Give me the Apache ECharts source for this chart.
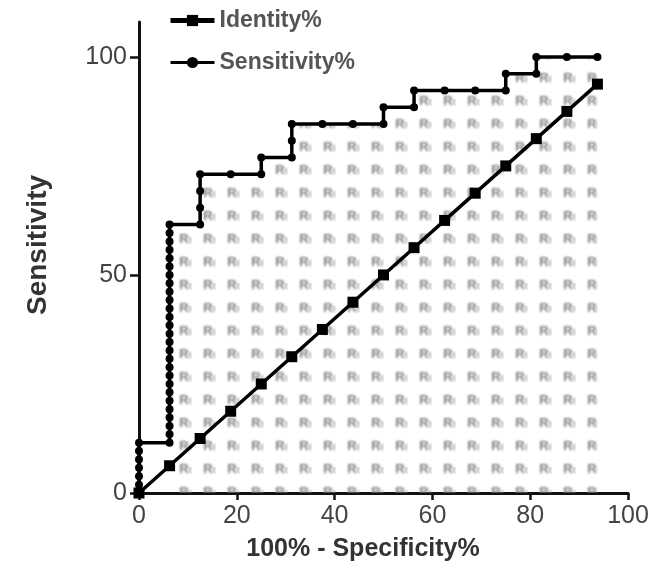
<!DOCTYPE html>
<html>
<head>
<meta charset="utf-8">
<script src="https://cdn.jsdelivr.net/npm/echarts@6/dist/echarts.min.js"></script>
<style>
html,body{margin:0;padding:0;background:#fff;}
#chart{width:664px;height:584px;}
</style>
</head>
<body>
<div id="chart"></div>
<script>
// ---- data ----
const rocX = [0,0,0,0,0,0,0,
  6.25,6.25,6.25,6.25,6.25,6.25,6.25,6.25,6.25,6.25,6.25,6.25,6.25,6.25,6.25,6.25,6.25,6.25,6.25,6.25,6.25,6.25,6.25,6.25,6.25,6.25,6.25,
  12.5,12.5,12.5,12.5,
  18.75,
  25,25,
  31.25,31.25,31.25,
  37.5,
  43.75,
  50,50,
  56.25,56.25,
  62.5,
  68.75,
  75,75,
  81.25,81.25,
  87.5,
  93.75];
const rocY = [0,1.92,3.85,5.77,7.69,9.62,11.54,
  11.54,13.46,15.38,17.31,19.23,21.15,23.08,25.00,26.92,28.85,30.77,32.69,34.62,36.54,38.46,40.38,42.31,44.23,46.15,48.08,50.00,51.92,53.85,55.77,57.69,59.62,61.54,
  61.54,65.38,69.23,73.08,
  73.08,
  73.08,76.92,
  76.92,80.77,84.62,
  84.62,
  84.62,
  84.62,88.46,
  88.46,92.31,
  92.31,
  92.31,
  92.31,96.15,
  96.15,100,
  100,
  100];
const identityX = [0,6.25,12.5,18.75,25,31.25,37.5,43.75,50,56.25,62.5,68.75,75,81.25,87.5,93.75];
const identityY = [0,6.25,12.5,18.75,25,31.25,37.5,43.75,50,56.25,62.5,68.75,75,81.25,87.5,93.75];
const xTicks = [0,20,40,60,80,100];
const yTicks = [0,50,100];
const seriesNames = ['Identity%','Sensitivity%'];
const xTitle = '100% - Specificity%';
const yTitle = 'Sensitivity';

// ---- build ----
const FONT = '"Liberation Sans", Arial, Helvetica, sans-serif';
const rocData = rocX.map((x,i)=>[x,rocY[i]]);
const fillData = rocData.filter(p=>p[0]>=6.25);
const idData = identityX.map((x,i)=>[x,identityY[i]]);

// texture of small grey glyphs
const pc = document.createElement('canvas');
pc.width = 24; pc.height = 23;
const pctx = pc.getContext('2d');
pctx.filter = 'blur(0.8px)';
pctx.fillStyle = '#7d7d7d';
pctx.font = 'bold 13px ' + FONT;
pctx.textAlign = 'center';
pctx.textBaseline = 'middle';
pctx.fillText('R', 16, 9);
pctx.fillStyle = '#9a9a9a';
pctx.font = 'bold 9px ' + FONT;
pctx.fillText('t', 22, 11);

const chart = echarts.init(document.getElementById('chart'), null, {renderer:'canvas'});
chart.setOption({
  animation:false,
  backgroundColor:'#fff',
  grid:{left:139,right:36,top:22,bottom:91,containLabel:false},
  legend:{
    orient:'vertical', left:163, top:4, itemWidth:44, itemHeight:14, itemGap:19,
    textStyle:{fontSize:23, fontWeight:'bold', color:'#555', fontFamily:FONT},
    data:[
      {name:seriesNames[0], lineStyle:{width:5}},
      {name:seriesNames[1], lineStyle:{width:3}}
    ]
  },
  xAxis:{
    type:'value', min:0, max:100, interval:20,
    axisLine:{show:true, lineStyle:{color:'#111', width:3}},
    axisTick:{show:true, length:7, lineStyle:{color:'#111', width:2.5}, customValues:xTicks},
    axisLabel:{fontSize:25, color:'#444', fontFamily:FONT, margin:11, customValues:xTicks},
    splitLine:{show:false}
  },
  yAxis:{
    type:'value', min:0, max:108,
    axisLine:{show:true, onZero:false, lineStyle:{color:'#111', width:3}},
    axisTick:{show:true, length:9, lineStyle:{color:'#111', width:2.5}, customValues:yTicks},
    axisLabel:{fontSize:25, color:'#444', fontFamily:FONT, margin:12, customValues:yTicks},
    splitLine:{show:false}
  },
  graphic:[
    {type:'text', x:363, y:549, style:{text:xTitle, font:'bold 25px '+FONT, fill:'#333', textAlign:'center', textVerticalAlign:'middle'}},
    {type:'text', x:38, y:245, rotation:Math.PI/2, style:{text:yTitle, font:'bold 28px '+FONT, fill:'#333', textAlign:'center', textVerticalAlign:'middle'}}
  ],
  series:[
    {
      name:'fill', type:'line', data:fillData, showSymbol:false, symbol:'none',
      lineStyle:{width:0, opacity:0}, areaStyle:{color:{image:pc, repeat:'repeat'}, opacity:1},
      silent:true, z:1, clip:false, legendHoverLink:false
    },
    {
      name:seriesNames[0], type:'line', data:idData, symbol:'rect', symbolSize:11,
      lineStyle:{color:'#000', width:3.5}, itemStyle:{color:'#000'}, z:3, clip:false
    },
    {
      name:seriesNames[1], type:'line', data:rocData, symbol:'circle', symbolSize:8,
      lineStyle:{color:'#000', width:3.5}, itemStyle:{color:'#000'}, z:4, clip:false
    }
  ]
});
</script>
</body>
</html>
